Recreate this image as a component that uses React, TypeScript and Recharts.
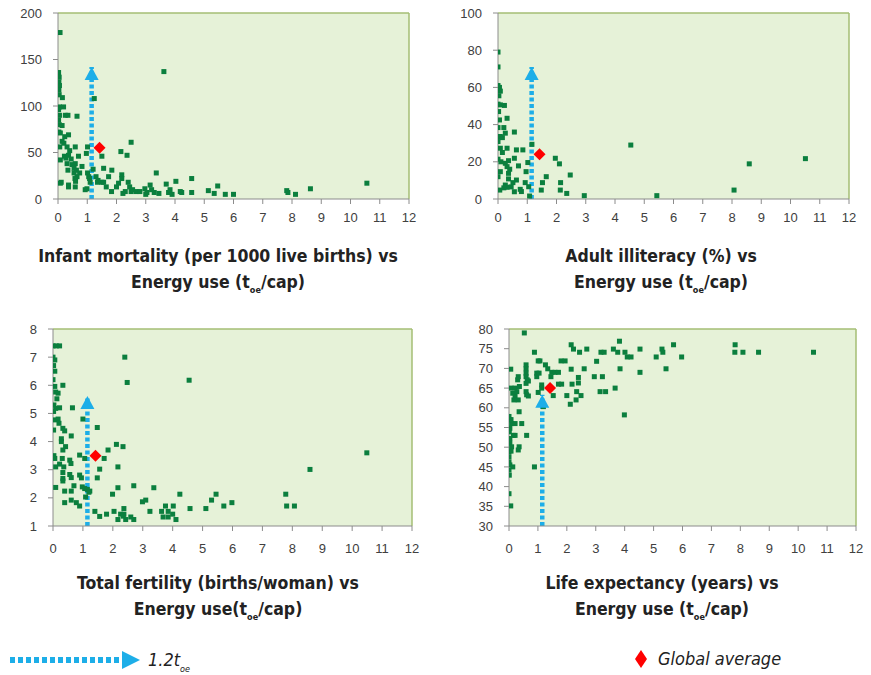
import React from 'react';
import { ScatterChart, Scatter, XAxis, YAxis, CartesianGrid, ReferenceLine, ReferenceDot } from 'recharts';

// ---------- data ----------
const energyTicks = [0, 1, 2, 3, 4, 5, 6, 7, 8, 9, 10, 11, 12];
const infantTicks = [0, 50, 100, 150, 200];
const illiteracyTicks = [0, 20, 40, 60, 80, 100];
const fertilityTicks = [1, 2, 3, 4, 5, 6, 7, 8];
const lifeTicks = [30, 35, 40, 45, 50, 55, 60, 65, 70, 75, 80];

// [energy use (toe/cap), indicator]
const infantMortality: [number, number][] = [
  [0.07, 179], [3.62, 137],
  [0.02, 136], [0.04, 131], [0.03, 126], [0.05, 122], [0.03, 117], [0.04, 112], [0.15, 109], [0.05, 99], [0.19, 99],
  [0.02, 96], [0.05, 90], [0.02, 85], [0.04, 80], [0.14, 79], [0.03, 72], [0.08, 71],
  [1.24, 108], [0.65, 89], [0.25, 90], [0.34, 90], [0.36, 69], [0.23, 67], [0.14, 62], [0.06, 56], [0.31, 56],
  [0.59, 56], [1.01, 56], [0.97, 49], [0.08, 42], [0.22, 46], [0.36, 47], [0.7, 46], [0.31, 38], [0.48, 37],
  [0.59, 38], [0.82, 35], [0.34, 31], [0.63, 31], [0.65, 24], [0.6, 19], [0.74, 28], [1.01, 28], [1.05, 24],
  [1.08, 22], [1.3, 24], [1.5, 46], [1.56, 33], [1.84, 31], [1.73, 24], [1.35, 18], [1.5, 18], [1.56, 18],
  [1.37, 20], [1.65, 13], [1.83, 8], [2.0, 13], [2.07, 17], [2.15, 51], [2.36, 47], [2.5, 61], [2.18, 26],
  [2.18, 22], [2.22, 6], [2.4, 18], [2.45, 13], [2.5, 8], [2.67, 8], [2.8, 8], [2.3, 8], [2.97, 11], [3.15, 15],
  [3.2, 10], [3.04, 7], [3.29, 7], [3.36, 28], [3.7, 16], [3.78, 7], [3.9, 5], [3.83, 10], [4.18, 8], [4.03, 19],
  [4.23, 7], [4.57, 22], [4.57, 7], [5.14, 9], [5.34, 6], [5.46, 14], [5.72, 5], [6.0, 5], [7.82, 9], [7.86, 7],
  [8.12, 5], [8.63, 11], [10.56, 17], [0.08, 17], [0.11, 18], [0.36, 15], [0.36, 13], [0.59, 13], [0.93, 10],
  [0.99, 11], [0.55, 33], [0.55, 28], [0.58, 22], [0.45, 43], [0.27, 44], [0.4, 52], [0.2, 60], [1.1, 18],
  [1.2, 32], [2.55, 10], [3.0, 5], [3.45, 6],
];

const adultIlliteracy: [number, number][] = [
  [0, 79], [0, 71], [0, 61], [0.05, 60], [0.08, 58], [0.03, 55.5], [0, 51], [0.08, 50.6], [0.22, 50.3], [0.02, 47],
  [0.05, 42.5], [0, 38.4], [0.2, 38.4], [0.56, 36], [0.25, 35.4], [0.08, 33.6], [0.15, 33], [0.31, 43.4], [0, 30.9],
  [0.08, 27.3], [0.31, 27.3], [0.63, 26.4], [0.85, 26.4], [1.16, 29.4], [0, 21.4], [0.1, 20], [0.25, 19.2],
  [0.36, 20.6], [0.56, 21.9], [0.7, 17.8], [0.31, 17.4], [1.02, 19.6], [0.96, 14.7], [0.08, 14.7], [0.36, 13.8],
  [0, 12], [0.36, 10.8], [0.63, 10.2], [0.51, 8.8], [0.93, 8.8], [0.25, 7.5], [0.31, 6.3], [0.06, 4.8], [0.56, 3.9],
  [0.76, 5.2], [1.05, 6.6], [1.08, 1.6], [1.48, 4.8], [1.52, 8.8], [1.65, 12], [1.96, 21.9], [2.1, 18.9],
  [2.14, 8.8], [2.13, 4.8], [2.35, 3], [2.47, 12.9], [2.95, 1.8], [4.54, 29], [5.43, 1.8], [8.07, 4.8],
  [8.59, 18.9], [10.51, 21.7], [0.15, 25], [0.2, 6], [0.45, 6.5], [0.8, 4], [0.4, 16],
];

const totalFertility: [number, number][] = [
  [0, 7.4], [0.11, 7.4], [0.22, 7.4], [0, 7.0], [0.06, 6.9], [0.02, 6.7], [0.06, 6.5], [0, 6.2], [0.06, 5.96],
  [0.33, 6.0], [0.09, 5.76], [0.17, 5.72], [0.13, 5.52], [0.03, 5.3], [0.09, 5.18], [0.22, 5.2], [0.02, 5.07],
  [0.65, 5.2], [0.06, 4.77], [0.17, 4.8], [0.2, 4.65], [0.33, 4.47], [0.39, 4.38], [0.02, 4.41], [1.0, 4.8],
  [1.48, 4.5], [0.61, 4.2], [0.28, 4.1], [0.28, 4.0], [0.42, 3.82], [0.33, 3.7], [0.03, 3.5], [0.06, 3.4],
  [0.31, 3.4], [0.89, 3.52], [0.56, 3.34], [0.6, 3.22], [0.22, 3.2], [0.09, 3.1], [0.36, 3.1], [1.06, 3.4],
  [1.84, 3.7], [2.12, 3.9], [2.34, 3.82], [1.71, 3.4], [2.17, 3.1], [1.56, 3.02], [1.48, 2.71], [0.33, 2.9],
  [0.56, 2.83], [0.61, 2.72], [0.33, 2.69], [0.33, 2.6], [0.89, 2.81], [0.95, 2.71], [0.09, 2.37], [0.7, 2.43],
  [0.98, 2.39], [1.06, 2.33], [1.23, 2.24], [0.39, 2.24], [0.61, 2.24], [2.17, 2.36], [2.7, 2.43], [3.37, 2.36],
  [1.99, 2.13], [4.24, 2.13], [5.45, 2.13], [1.09, 2.03], [0.39, 1.83], [0.61, 1.92], [0.78, 1.83], [0.89, 1.71],
  [2.99, 1.86], [3.1, 1.92], [5.3, 1.92], [5.98, 1.83], [5.71, 1.71], [1.4, 1.52], [1.56, 1.34], [1.79, 1.42],
  [2.04, 1.52], [2.17, 1.23], [2.26, 1.42], [2.37, 1.62], [2.37, 1.42], [2.43, 1.23], [2.6, 1.32], [2.7, 1.23],
  [3.24, 1.52], [3.63, 1.52], [3.68, 1.32], [3.76, 1.71], [3.85, 1.52], [3.85, 1.32], [4.02, 1.71], [4.0, 1.42],
  [4.11, 1.23], [4.58, 1.62], [5.11, 1.62], [2.4, 7.0], [2.48, 6.1], [4.55, 6.18], [7.78, 2.13], [7.81, 1.71],
  [8.07, 1.71], [8.59, 3.01], [10.49, 3.6], [1.15, 2.3], [1.2, 2.2], [2.35, 1.35],
];

const lifeExpectancy: [number, number][] = [
  [0.53, 79], [0.88, 74.1], [0.06, 69.8], [0.59, 70.9], [0.59, 69.9], [0.59, 68.8], [0.59, 67.9], [0.63, 67.1],
  [0.67, 66.8], [0.59, 66.2], [0.96, 67.9], [1.01, 71.9], [1.07, 71.9], [0.96, 68.8], [0.07, 65], [0.21, 65],
  [0.3, 67.1], [0.32, 67.9], [0.13, 63.7], [0.21, 62.9], [0.32, 62.0], [0.17, 62], [0.27, 64.1], [0.36, 65.4],
  [0.61, 63.3], [0.67, 63], [0.59, 64.1], [1.04, 68.8], [1.13, 65.8], [1.01, 63.9], [1.13, 65], [1.26, 70.9],
  [1.34, 69.9], [1.45, 67.9], [1.48, 69], [1.59, 69], [1.71, 69], [1.53, 63.1], [1.19, 60.3], [1.71, 66],
  [1.82, 66], [1.8, 71.9], [1.94, 71.9], [2.0, 63.1], [2.15, 76], [2.23, 74.9], [2.15, 69.8], [2.18, 66],
  [2.12, 60.9], [2.32, 62], [2.4, 67.7], [2.4, 66.3], [2.34, 64.1], [2.49, 63.1], [2.44, 74.1], [2.6, 69.9],
  [2.69, 74.9], [2.95, 67.9], [3.03, 71.8], [3.15, 64.1], [3.23, 67.9], [3.18, 74.1], [3.29, 74.1], [3.34, 64.1],
  [3.61, 74.9], [3.67, 65], [3.76, 74.1], [3.82, 76.9], [3.84, 69.9], [3.99, 58.2], [4.01, 74.1], [4.09, 72.9],
  [4.22, 72.9], [4.53, 74.9], [4.53, 69], [5.09, 72.9], [5.29, 74.9], [5.32, 74.1], [5.43, 69.9], [5.69, 76],
  [5.97, 72.9], [7.82, 76], [7.81, 74.1], [8.09, 74.1], [8.63, 74.1], [10.53, 74.1], [0, 57.8], [0.03, 57],
  [0.09, 56], [0.44, 56], [0.21, 56], [0.01, 53.9], [0.15, 53], [0.21, 53], [0.61, 53], [0.35, 59], [0.03, 51],
  [0.09, 50.1], [0.32, 49.3], [0.35, 50.1], [0, 48.9], [0.07, 49], [0, 47.6], [0, 46.3], [0.03, 45.5], [0.13, 45],
  [0, 44.2], [0.01, 42.9], [0.88, 45], [0, 38.2], [0.06, 35.1], [0.07, 57], [0.03, 54.8], [0.03, 52.2],
];

// global average (energy, indicator) and the 1.2 toe marker
const globalAvgEnergy = 1.42;
const globalAvgInfant = 55;
const globalAvgIlliteracy = 24;
const globalAvgFertility = 3.5;
const globalAvgLife = 65;
const markerEnergy = 1.15;
const markerTipInfant = 142;
const markerTipIlliteracy = 71;
const markerTipFertility = 5.62;
const markerTipLife = 63.3;

// ---------- styles ----------
const BG = '#E6F2D8';
const BORDER = '#A4BE74';
const AXIS = '#8C8C8C';
const GREEN = '#0B7F3E';
const BLUE = '#1DAEE8';
const RED = '#FF0000';
const TITLE_FONT = '"DejaVu Sans Condensed", "Liberation Sans Narrow", sans-serif';
const tickStyle = { fontSize: 13, fill: '#404040', fontFamily: '"Liberation Sans", Arial, sans-serif' };

const Square = (p: any) => (
  <rect x={p.cx - 2.5} y={p.cy - 2.5} width={5} height={5} fill={GREEN} />
);
const Diamond = (p: any) => (
  <polygon
    points={`${p.cx},${p.cy - 6} ${p.cx + 6},${p.cy} ${p.cx},${p.cy + 6} ${p.cx - 6},${p.cy}`}
    fill={RED}
  />
);
const ArrowHead = (p: any) => (
  <polygon
    points={`${p.cx},${p.cy} ${p.cx + 7},${p.cy + 13} ${p.cx - 7},${p.cy + 13}`}
    fill={BLUE}
  />
);

type PanelProps = {
  data: [number, number][];
  avgY: number;
  yDomain: [number, number];
  yTicks: number[];
  tip: number;
  left: number;
  top: number;
  width: number;
  height: number;
  margin: { top: number; right: number; bottom: number; left: number };
  xTickMargin: number;
};

function Panel(props: PanelProps) {
  const { data, avgY, yDomain, yTicks, tip, left, top, width, height, margin, xTickMargin } = props;
  const pts = data.map(([x, y]) => ({ x, y }));
  const avg = [{ x: globalAvgEnergy, y: avgY }];
  return (
    <div style={{ position: 'absolute', left, top, width, height }}>
      <ScatterChart width={width} height={height} margin={margin}>
        <CartesianGrid fill={BG} horizontal={false} vertical={false} stroke="none" />
        <ReferenceLine y={yDomain[1]} stroke={BORDER} strokeWidth={1.5} />
        <ReferenceLine x={12} stroke={BORDER} strokeWidth={1.5} />
        <XAxis
          type="number"
          dataKey="x"
          domain={[0, 12]}
          ticks={energyTicks}
          interval={0}
          allowDataOverflow
          height={30}
          tickSize={5}
          tickMargin={xTickMargin}
          tick={tickStyle}
          tickLine={{ stroke: AXIS }}
          axisLine={{ stroke: AXIS }}
        />
        <YAxis
          type="number"
          dataKey="y"
          domain={yDomain}
          ticks={yTicks}
          interval={0}
          allowDataOverflow
          width={50}
          tickSize={5}
          tickMargin={11}
          tick={tickStyle}
          tickLine={{ stroke: AXIS }}
          axisLine={{ stroke: AXIS }}
        />
        <Scatter data={pts} shape={Square} isAnimationActive={false} />
        <ReferenceLine
          segment={[{ x: markerEnergy, y: yDomain[0] }, { x: markerEnergy, y: tip }]}
          stroke={BLUE}
          strokeWidth={4.5}
          strokeDasharray="4 2.5"
        />
        <ReferenceDot x={markerEnergy} y={tip} r={7} shape={ArrowHead} />
        <Scatter data={avg} shape={Diamond} isAnimationActive={false} />
      </ScatterChart>
    </div>
  );
}

function Title({ x, y, line1, sep }: { x: number; y: number; line1: string; sep: string }) {
  return (
    <g fontFamily={TITLE_FONT} fontWeight="bold" fontSize={17.5} fill="#222" textAnchor="middle">
      <text x={x} y={y}>{line1}</text>
      <text x={x} y={y + 26}>
        {`Energy use${sep}(t`}
        <tspan fontSize={9} dy={5}>oe</tspan>
        <tspan dy={-5}>/cap)</tspan>
      </text>
    </g>
  );
}

export default function App() {
  return (
    <div style={{ position: 'absolute', left: 0, top: 0, width: 871, height: 675, background: '#fff', overflow: 'hidden' }}>
      <Panel
        data={infantMortality} avgY={globalAvgInfant} yDomain={[0, 200]} yTicks={infantTicks} tip={markerTipInfant}
        left={0} top={0} width={440} height={230}
        margin={{ top: 13, right: 31, bottom: 1, left: 8 }} xTickMargin={9}
      />
      <Panel
        data={adultIlliteracy} avgY={globalAvgIlliteracy} yDomain={[0, 100]} yTicks={illiteracyTicks} tip={markerTipIlliteracy}
        left={440} top={0} width={431} height={230}
        margin={{ top: 13, right: 22, bottom: 1, left: 8 }} xTickMargin={9}
      />
      <Panel
        data={totalFertility} avgY={globalAvgFertility} yDomain={[1, 8]} yTicks={fertilityTicks} tip={markerTipFertility}
        left={0} top={315} width={440} height={250}
        margin={{ top: 14, right: 28, bottom: 9, left: 3 }} xTickMargin={13}
      />
      <Panel
        data={lifeExpectancy} avgY={globalAvgLife} yDomain={[30, 80]} yTicks={lifeTicks} tip={markerTipLife}
        left={440} top={315} width={431} height={250}
        margin={{ top: 14, right: 15, bottom: 9, left: 19 }} xTickMargin={13}
      />
      <svg width={871} height={675} style={{ position: 'absolute', left: 0, top: 0, pointerEvents: 'none' }}>
        <Title x={218} y={262} line1="Infant mortality (per 1000 live births) vs" sep=" " />
        <Title x={661} y={262} line1="Adult illiteracy (%) vs" sep=" " />
        <Title x={218} y={589} line1="Total fertility (births/woman) vs" sep="" />
        <Title x={662} y={589} line1="Life expectancy (years) vs" sep=" " />
        {/* legend */}
        <line x1={10} y1={660} x2={124} y2={660} stroke={BLUE} strokeWidth={6} strokeDasharray="5 3" />
        <polygon points="122,651 140,660 122,669" fill={BLUE} />
        <text x={148} y={666} fontFamily={TITLE_FONT} fontStyle="italic" fontSize={18} fill="#222">
          1.2t<tspan fontSize={9} dy={6}>oe</tspan>
        </text>
        <polygon points="641,650 647,659 641,668 635,659" fill={RED} />
        <text x={658} y={665} fontFamily={TITLE_FONT} fontStyle="italic" fontSize={18} fill="#222">Global average</text>
      </svg>
    </div>
  );
}
